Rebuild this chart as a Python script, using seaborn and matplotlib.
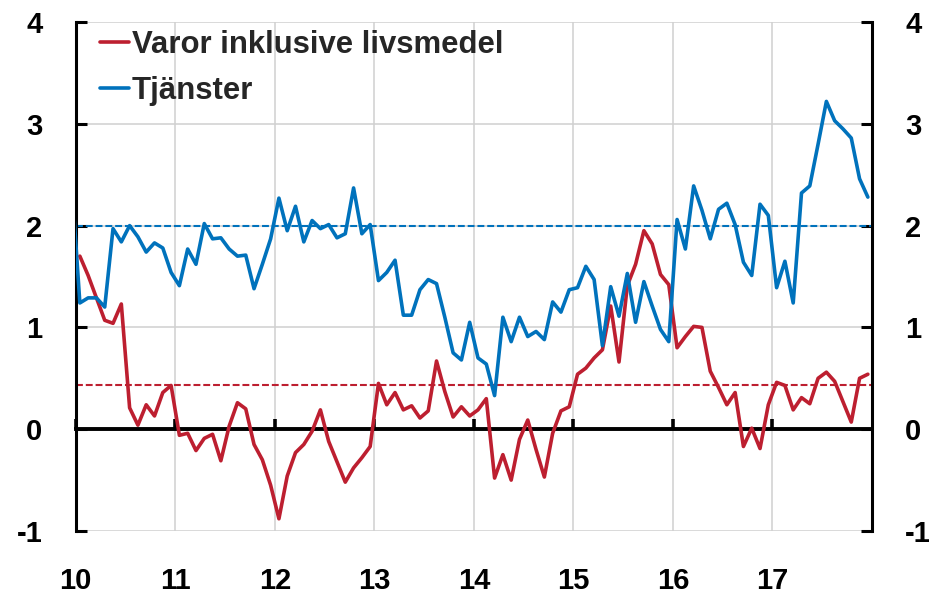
import numpy as np
import pandas as pd
import matplotlib
matplotlib.use('Agg')
import matplotlib.pyplot as plt
import seaborn as sns

# månadsdata, dec 2009 - dec 2017 (procent)
months = pd.period_range('2009-12', '2017-12', freq='M')

varor = [np.nan,
         1.70, 1.51, 1.29, 1.07, 1.04, 1.23, 0.21, 0.04, 0.24, 0.13, 0.36, 0.43,
         -0.06, -0.04, -0.21, -0.09, -0.05, -0.31, 0.03, 0.26, 0.20, -0.15, -0.30, -0.55,
         -0.88, -0.46, -0.23, -0.15, -0.02, 0.19, -0.12, -0.32, -0.52, -0.38, -0.28, -0.17,
         0.45, 0.24, 0.36, 0.19, 0.23, 0.11, 0.18, 0.67, 0.37, 0.12, 0.22, 0.13,
         0.19, 0.30, -0.48, -0.25, -0.50, -0.10, 0.09, -0.20, -0.47, -0.04, 0.18, 0.22,
         0.54, 0.60, 0.70, 0.78, 1.21, 0.66, 1.41, 1.62, 1.95, 1.82, 1.52, 1.42,
         0.80, 0.91, 1.01, 1.00, 0.57, 0.41, 0.24, 0.36, -0.17, 0.01, -0.19, 0.24,
         0.46, 0.43, 0.19, 0.31, 0.25, 0.50, 0.56, 0.47, 0.27, 0.07, 0.50, 0.54]

tjanster = [2.45,
            1.24, 1.29, 1.29, 1.20, 1.97, 1.84, 2.00, 1.89, 1.74, 1.83, 1.78, 1.54,
            1.41, 1.77, 1.62, 2.02, 1.87, 1.88, 1.77, 1.70, 1.71, 1.38, 1.62, 1.87,
            2.27, 1.95, 2.19, 1.84, 2.05, 1.97, 2.01, 1.88, 1.92, 2.37, 1.92, 2.01,
            1.46, 1.54, 1.66, 1.12, 1.12, 1.37, 1.47, 1.43, 1.10, 0.75, 0.68, 1.05,
            0.70, 0.64, 0.33, 1.10, 0.86, 1.10, 0.91, 0.96, 0.88, 1.25, 1.15, 1.37,
            1.39, 1.60, 1.47, 0.82, 1.40, 1.11, 1.53, 1.05, 1.45, 1.21, 0.98, 0.86,
            2.06, 1.77, 2.39, 2.15, 1.87, 2.16, 2.22, 2.01, 1.64, 1.51, 2.21, 2.10,
            1.39, 1.65, 1.24, 2.32, 2.39, 2.80, 3.22, 3.03, 2.95, 2.86, 2.46, 2.28]

# genomsnitt (streckade linjer)
snitt_varor = 0.43
snitt_tjanster = 2.0

years = list(range(2010, 2018))
year_labels = [str(y % 100) for y in years]

RED = '#BD1F30'
BLUE = '#0072BC'

# x som decimalår, mitt i månaden
x = months.year + (months.month - 0.5) / 12
df = pd.DataFrame({'x': np.concatenate([x, x]),
                   'värde': varor + tjanster,
                   'serie': ['Varor inklusive livsmedel'] * len(x) + ['Tjänster'] * len(x)})

sns.set_theme(style='white')
plt.rcParams['font.family'] = ['Liberation Sans', 'DejaVu Sans']
plt.rcParams['font.weight'] = 'bold'
plt.rcParams['axes.unicode_minus'] = False

fig = plt.figure(figsize=(9.32, 5.93), dpi=100)
ax = fig.add_axes([75.7 / 932, 62 / 593, (872 - 75.7) / 932, 509 / 593])

sns.lineplot(data=df, x='x', y='värde', hue='serie',
             palette=[RED, BLUE], linewidth=2.6, ax=ax, zorder=3)

ax.axhline(snitt_tjanster, color=BLUE, lw=1.5, dashes=(3.3, 1.4), zorder=2.5)
ax.axhline(snitt_varor, color=RED, lw=1.5, dashes=(3.3, 1.4), zorder=2.5)

ax.set_xlim(2010, 2018)
ax.set_ylim(-1, 4)
ax.set_xticks(years)
ax.set_xticklabels(year_labels)
ax.set_yticks(range(-1, 5))
ax.set_xlabel('')
ax.set_ylabel('')

ax.grid(True, color='#D0D0D0', lw=1.1)
ax.set_axisbelow(True)

for s in ['left', 'right']:
    ax.spines[s].set_color('black')
    ax.spines[s].set_linewidth(2.2)
ax.spines['top'].set_visible(False)
ax.spines['bottom'].set_position(('data', 0))
ax.spines['bottom'].set_color('black')
ax.spines['bottom'].set_linewidth(2.8)

ax.tick_params(axis='y', which='both', direction='in', length=8, width=2.2,
               left=True, right=True, labelleft=True, labelright=True,
               labelsize=21, pad=24, colors='black')
ax.tick_params(axis='x', direction='in', length=7, width=2.6, bottom=True,
               labelsize=21, pad=99, colors='black')
for lab in ax.get_xticklabels() + ax.get_yticklabels():
    lab.set_fontweight('bold')

handles, labels = ax.get_legend_handles_labels()
leg = ax.legend(handles, labels, loc='upper left',
                bbox_to_anchor=(100 / 932, 1 - 30 / 593), bbox_transform=fig.transFigure,
                frameon=False, borderpad=0, borderaxespad=0,
                handlelength=0.92, handletextpad=0.1, labelspacing=0.5,
                prop={'size': 22.4, 'weight': 'bold'})
for line in leg.get_lines():
    line.set_linewidth(2.6)

fig.savefig('out.png', dpi=100)
